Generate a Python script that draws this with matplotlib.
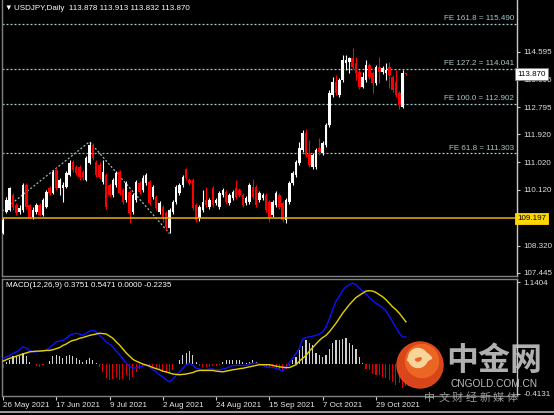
import matplotlib
matplotlib.use("Agg")
import matplotlib.pyplot as plt
from matplotlib.patches import Circle, Wedge
import numpy as np

W, H, DPI = 554, 415, 100
plt.rcParams['font.family'] = ['Liberation Sans', 'DejaVu Sans']

# ---------------- data ----------------
symbol = "USDJPY,Daily"
last_ohlc = ["113.878", "113.913", "113.832", "113.870"]

opens = [108.73, 109.41, 109.47, 109.96, 109.63, 109.41, 109.47, 110.28, 109.63, 109.25,
         109.41, 109.63, 109.31, 109.57, 110.18, 110.02, 110.77, 110.18, 110.18, 110.22,
         110.60, 111.03, 110.86, 110.86, 110.70, 110.44, 110.99, 111.58, 111.03, 110.93,
         110.38, 110.60, 110.28, 109.96, 110.28, 110.70, 110.12, 109.80, 110.05, 109.41,
         109.80, 110.35, 110.12, 110.35, 110.38, 109.89, 109.89, 109.41, 109.57, 109.38,
         108.89, 109.41, 109.73, 110.02, 110.28, 110.80, 110.44, 110.44, 109.63, 109.21,
         109.47, 109.80, 109.57, 110.18, 109.70, 109.57, 109.96, 110.05, 109.70, 109.86,
         110.18, 110.12, 109.96, 109.70, 109.73, 110.22, 110.22, 109.80, 109.86, 109.96,
         109.73, 109.31, 109.63, 109.96, 109.70, 109.15, 109.73, 110.35, 110.60, 110.99,
         111.41, 111.96, 111.32, 110.86, 110.86, 111.48, 111.32, 111.58, 112.22, 113.19,
         113.61, 113.19, 113.68, 114.23, 114.26, 114.39, 114.23, 113.94, 113.45, 113.68,
         114.17, 113.91, 113.58, 114.10, 113.94, 113.91, 114.10, 113.78, 113.61, 113.26,
         112.81, 113.878]
highs = [109.21, 109.89, 110.22, 110.02, 109.70, 109.63, 110.35, 110.35, 109.67, 109.57,
         109.70, 109.70, 109.86, 110.12, 110.25, 110.77, 110.83, 110.51, 110.38, 110.73,
         111.09, 111.09, 110.93, 110.93, 110.77, 111.22, 111.67, 111.64, 111.09, 111.03,
         111.09, 110.67, 110.35, 110.51, 110.73, 110.77, 110.18, 110.41, 110.12, 110.02,
         110.44, 110.41, 110.60, 110.67, 110.44, 110.28, 109.96, 109.76, 109.63, 109.44,
         109.54, 109.80, 110.28, 110.35, 110.60, 110.83, 110.51, 110.51, 109.70, 109.63,
         110.12, 110.22, 109.86, 110.25, 109.86, 110.09, 110.18, 110.12, 110.02, 110.12,
         110.44, 110.18, 110.02, 109.93, 110.35, 110.48, 110.28, 110.09, 110.02, 110.02,
         109.80, 109.80, 110.09, 110.02, 109.76, 109.86, 110.41, 110.73, 111.09, 111.67,
         112.06, 112.09, 111.74, 111.32, 111.48, 111.80, 111.71, 112.29, 113.36, 113.78,
         113.84, 113.74, 114.49, 114.49, 114.42, 114.72, 114.42, 114.00, 113.94, 114.33,
         114.23, 113.97, 114.17, 114.42, 114.13, 114.23, 114.26, 113.84, 114.00, 113.32,
         114.00, 113.913]
lows = [108.70, 109.38, 109.44, 109.47, 109.31, 109.34, 109.41, 109.50, 109.18, 109.18,
        109.34, 109.28, 109.28, 109.54, 109.96, 109.99, 110.12, 109.96, 109.73, 110.18,
        110.57, 110.70, 110.60, 110.44, 110.44, 110.41, 110.96, 111.09, 110.54, 110.48,
        110.31, 109.50, 109.89, 109.89, 110.22, 109.96, 109.67, 109.73, 109.05, 109.34,
        109.73, 109.99, 110.05, 110.28, 109.63, 109.83, 109.47, 109.34, 109.08, 108.83,
        108.73, 109.34, 109.67, 109.96, 110.22, 110.44, 110.28, 109.47, 109.08, 109.12,
        109.41, 109.57, 109.50, 109.57, 109.63, 109.50, 109.89, 109.67, 109.63, 109.80,
        109.83, 109.89, 109.57, 109.63, 109.67, 109.83, 109.57, 109.73, 109.80, 109.41,
        109.08, 109.25, 109.57, 109.50, 109.08, 109.05, 109.67, 110.28, 110.54, 110.93,
        111.35, 111.19, 110.86, 110.80, 110.80, 111.25, 111.25, 111.51, 112.16, 113.13,
        113.19, 113.13, 113.61, 114.00, 113.91, 114.03, 113.68, 113.39, 113.42, 113.61,
        113.71, 113.26, 113.52, 113.58, 113.87, 113.68, 113.42, 113.29, 113.13, 112.74,
        112.77, 113.832]
closes = [109.15, 109.80, 110.18, 109.57, 109.38, 109.54, 110.28, 109.57, 109.21, 109.47,
          109.63, 109.31, 109.80, 110.05, 110.02, 110.70, 110.18, 110.44, 110.28, 110.67,
          110.99, 110.77, 110.67, 110.54, 110.51, 111.16, 111.58, 111.16, 110.60, 110.54,
          110.70, 109.57, 109.96, 110.44, 110.67, 110.02, 109.73, 110.35, 109.38, 109.96,
          110.38, 110.05, 110.51, 110.60, 109.70, 110.22, 109.54, 109.70, 109.25, 108.92,
          109.47, 109.73, 110.22, 110.28, 110.54, 110.51, 110.35, 109.54, 109.15, 109.57,
          109.73, 109.63, 109.80, 109.63, 109.80, 110.02, 110.12, 109.73, 109.96, 110.05,
          109.89, 109.96, 109.63, 109.86, 110.28, 109.89, 109.63, 110.02, 109.96, 109.47,
          109.21, 109.73, 110.02, 109.57, 109.15, 109.80, 110.35, 110.67, 111.03, 111.48,
          111.96, 111.25, 110.93, 111.25, 111.41, 111.35, 111.64, 112.22, 113.26, 113.61,
          113.26, 113.68, 114.33, 114.33, 114.39, 114.10, 113.91, 113.45, 113.78, 114.17,
          113.78, 113.58, 114.10, 113.94, 114.07, 114.00, 113.84, 113.36, 113.19, 112.87,
          113.91, 113.870]

macd_main = [0.08, 0.10, 0.12, 0.15, 0.17, 0.20, 0.24, 0.22, 0.19, 0.17,
             0.17, 0.18, 0.18, 0.19, 0.23, 0.27, 0.31, 0.32, 0.33, 0.36,
             0.40, 0.42, 0.43, 0.42, 0.40, 0.43, 0.46, 0.47, 0.45, 0.40,
             0.36, 0.31, 0.28, 0.24, 0.18, 0.13, 0.07, 0.01, -0.03, -0.06,
             -0.05, -0.04, -0.03, -0.01, -0.04, -0.08, -0.11, -0.15, -0.18, -0.22,
             -0.25, -0.21, -0.16, -0.11, -0.06, -0.01, 0.01, -0.02, -0.06, -0.07,
             -0.08, -0.08, -0.07, -0.07, -0.08, -0.08, -0.07, -0.06, -0.04, -0.02,
             -0.02, -0.02, -0.02, -0.02, 0.0, 0.01, 0.01, 0.0, -0.02, -0.04,
             -0.05, -0.05, -0.06, -0.08, -0.10, -0.05, 0.02, 0.08, 0.15, 0.22,
             0.35, 0.37, 0.38, 0.39, 0.40, 0.42, 0.45, 0.52, 0.63, 0.76,
             0.88, 0.95, 1.03, 1.08, 1.11, 1.13, 1.11, 1.06, 1.02, 0.98,
             0.93, 0.89, 0.85, 0.82, 0.79, 0.74, 0.67, 0.59, 0.51, 0.43,
             0.38, 0.375]
macd_signal = [0.04, 0.06, 0.08, 0.09, 0.11, 0.125, 0.14, 0.155, 0.17, 0.175,
               0.18, 0.18, 0.185, 0.19, 0.19, 0.20, 0.215, 0.23, 0.26, 0.28,
               0.31, 0.33, 0.34, 0.36, 0.37, 0.385, 0.40, 0.41, 0.42, 0.43,
               0.425, 0.42, 0.39, 0.36, 0.31, 0.265, 0.21, 0.155, 0.11, 0.065,
               0.04, 0.02, 0.0, -0.015, -0.03, -0.05, -0.065, -0.08, -0.10, -0.11,
               -0.125, -0.14, -0.145, -0.15, -0.145, -0.14, -0.13, -0.12, -0.10, -0.09,
               -0.09, -0.09, -0.09, -0.09, -0.10, -0.105, -0.11, -0.10, -0.09, -0.08,
               -0.075, -0.065, -0.06, -0.05, -0.04, -0.03, -0.02, -0.01, -0.01, -0.01,
               -0.01, -0.02, -0.03, -0.04, -0.045, -0.05, -0.05, -0.03, -0.01, 0.04,
               0.08, 0.12, 0.18, 0.23, 0.28, 0.33, 0.37, 0.40, 0.45, 0.51,
               0.57, 0.64, 0.71, 0.77, 0.83, 0.88, 0.93, 0.96, 0.99, 1.02,
               1.025, 1.02, 1.00, 0.97, 0.94, 0.90, 0.85, 0.80, 0.76, 0.71,
               0.65, 0.59]
macd_hist = [-0.06, 0.03, 0.06, 0.11, 0.11, 0.11, 0.155, 0.11, 0.03, 0.0,
             -0.03, -0.04, -0.02, 0.0, 0.04, 0.11, 0.12, 0.11, 0.09, 0.11,
             0.13, 0.11, 0.08, 0.06, 0.03, 0.05, 0.08, 0.05, 0.015, -0.04,
             -0.11, -0.20, -0.22, -0.21, -0.20, -0.22, -0.21, -0.16, -0.22, -0.18,
             -0.11, -0.07, -0.03, -0.02, -0.04, -0.05, -0.07, -0.09, -0.11, -0.13,
             -0.13, -0.09, -0.005, 0.06, 0.13, 0.16, 0.18, 0.13, 0.03, -0.03,
             -0.04, -0.04, -0.04, -0.03, -0.03, -0.015, 0.03, 0.05, 0.05, 0.05,
             0.06, 0.05, 0.03, 0.02, 0.03, 0.05, 0.03, 0.0, -0.03, -0.04,
             -0.05, -0.05, -0.05, -0.07, -0.09, -0.07, -0.03, 0.05, 0.10, 0.20,
             0.25, 0.33, 0.30, 0.27, 0.15, 0.12, 0.10, 0.12, 0.21, 0.30,
             0.33, 0.33, 0.35, 0.36, 0.30, 0.27, 0.21, 0.10, 0.02, -0.07,
             -0.09, -0.14, -0.16, -0.16, -0.18, -0.20, -0.22, -0.25, -0.29, -0.27,
             -0.34, -0.31]
macd_header = "MACD(12,26,9) 0.3751 0.5471 0.0000 -0.2235"

date_labels = ["26 May 2021", "17 Jun 2021", "9 Jul 2021", "2 Aug 2021",
               "24 Aug 2021", "15 Sep 2021", "7 Oct 2021", "29 Oct 2021"]
date_label_bars = [0, 16, 32, 48, 64, 80, 96, 112]

fe_names = ["FE 161.8", "FE 127.2", "FE 100.0", "FE 61.8"]
fe_levels = [115.490, 114.041, 112.902, 111.303]
fe_anchor_bars = [-23, 26, 50]
fe_anchor_prices = [107.49, 111.68, 108.71]
support_level = 109.197
current_price = 113.870
price_ticks = [114.595, 113.695, 112.795, 111.920, 111.020, 110.120, 108.320, 107.445]
macd_ticks = [1.1404, -0.4131]
watermark_big = "中金网"
watermark_site = "CNGOLD.COM.CN"
watermark_slogan = ["中", "文", "财", "经", "新", "媒", "体"]

# ---------------- figure ----------------
FS = 5.8
fig = plt.figure(figsize=(W / DPI, H / DPI), dpi=DPI, facecolor='black')

def fx(px):
    return px / W

def fy(py):
    return 1 - py / H

ax = fig.add_axes([fx(2), fy(276), fx(517) - fx(2), fy(0) - fy(276)])
axm = fig.add_axes([fx(2), fy(396), fx(517) - fx(2), fy(279) - fy(396)])

PX_PER_BAR = 3.33
xlo = (2 - 3) / PX_PER_BAR
xhi = (517 - 3) / PX_PER_BAR

GREY = '#808080'
AXC = '#C8C8C8'
for a in (ax, axm):
    a.set_facecolor('black')
    a.set_xlim(xlo, xhi)
    for s in a.spines.values():
        s.set_color(GREY)
        s.set_linewidth(1.0)
    a.spines['right'].set_color(AXC)
    a.yaxis.tick_right()
    a.tick_params(axis='y', colors=AXC, labelcolor='#E0E0E0', length=2.5, width=0.8,
                  pad=2, labelsize=FS, direction='out')
ax.spines['top'].set_visible(False)

# price pane
ax.set_ylim(116.268 - 276 / 30.9, 116.268)
x = np.arange(len(closes))
o = np.array(opens); h = np.array(highs); l = np.array(lows); c = np.array(closes)
up = c >= o
cols = np.where(up, '#FFFFFF', '#FF0000')
ax.vlines(x, l, h, colors=cols, linewidth=0.8, zorder=3)
body_bot = np.minimum(o, c)
body_h = np.maximum(np.abs(c - o), 0.025)
ax.bar(x, body_h, bottom=body_bot, width=0.74, color=cols, linewidth=0, zorder=4)

FE_COL = '#A9CACA'
for name, lev in zip(fe_names, fe_levels):
    ax.axhline(lev, color=FE_COL, linewidth=0.9, linestyle=(0, (1.6, 1.6)), zorder=2)
    ax.annotate(f"{name} = {lev:.3f}", xy=(1, lev), xycoords=ax.get_yaxis_transform(),
                xytext=(-2, 1.2), textcoords='offset points', ha='right', va='bottom',
                color=FE_COL, fontsize=FS, zorder=6)
ax.plot(fe_anchor_bars, fe_anchor_prices, color='#9FB5B5', linewidth=0.9,
        linestyle=(0, (1.6, 1.6)), zorder=2)
ax.axhline(support_level, color='#E6B400', linewidth=1.1, zorder=5)

ax.set_yticks(price_ticks)
ax.set_yticklabels([f"{t:.3f}" for t in price_ticks])
ax.set_xticks([])

ax.text(1.0, current_price, f"{current_price:.3f}", transform=ax.get_yaxis_transform(),
        ha='left', va='center', fontsize=FS, color='black', zorder=20, clip_on=False,
        bbox=dict(boxstyle='square,pad=0.3', fc='white', ec='#808080', lw=0.6))
ax.text(1.0, support_level, f"{support_level:.3f}", transform=ax.get_yaxis_transform(),
        ha='left', va='center', fontsize=FS, color='black', zorder=20, clip_on=False,
        bbox=dict(boxstyle='square,pad=0.3', fc='#FFD700', ec='#FFD700', lw=0.6))

# MACD pane
axm.set_ylim((364 - 396) / 71.5, (364 - 279) / 71.5)
hist = np.array(macd_hist)
hcols = np.where(hist >= 0, '#D0D0D0', '#E00000')
axm.bar(x, hist, width=0.33, color=hcols, linewidth=0, zorder=2)
axm.plot(x, macd_main, color='#1010FF', linewidth=1.0, zorder=3)
axm.plot(x, macd_signal, color='#E6D200', linewidth=1.0, zorder=4)
axm.set_yticks(macd_ticks)
axm.set_yticklabels([f"{t:.4f}" for t in macd_ticks])
axm.set_xticks(date_label_bars)
axm.set_xticklabels(date_labels, ha='left')
axm.tick_params(axis='x', colors=AXC, labelcolor='#E8E8E8', length=3, width=0.8,
                pad=1.5, labelsize=FS, direction='out')

# overlay for titles, borders and watermark
ov = fig.add_axes([0, 0, 1, 1], zorder=10)
ov.set_xlim(0, W); ov.set_ylim(H, 0); ov.axis('off')
ov.patch.set_alpha(0)
ov.text(4, 8, "▼", fontsize=5.5, color='white', va='center', ha='left')
ov.text(14, 8, f"{symbol}  " + " ".join(last_ohlc), fontsize=FS, color='white',
        va='center', ha='left')
ov.text(6, 285.5, macd_header, fontsize=FS, color='white', va='center', ha='left')
ov.plot([0, W], [412, 412], color='#9A9A9A', linewidth=1.5)

# watermark logo
ov.add_patch(Circle((420, 365), 23, color='#E5491C', alpha=0.95, zorder=1))
ov.add_patch(Circle((422, 361), 16.5, color='#EE6A24', alpha=0.9, zorder=1))
ov.add_patch(Wedge((418, 358), 9.5, 0, 360, width=5, color='#F8D49A', zorder=2))
ov.add_patch(Wedge((420, 365), 13.5, 200, 330, width=5, color='#F8D49A', zorder=2))
ov.text(494, 361, watermark_big, fontsize=23, color='#C4C4C4', fontweight='bold',
        family=['Noto Sans CJK SC', 'DejaVu Sans'], ha='center', va='center', alpha=0.9)
ov.text(494, 384, watermark_site, fontsize=7.3, color='#BDBDBD', ha='center', va='center')
n_sl = len(watermark_slogan)
for k, ch in enumerate(watermark_slogan):
    ov.text(430 + k * (512 - 430) / (n_sl - 1), 398, ch, fontsize=8, color='#A8A8A8',
            family=['Noto Sans CJK SC', 'DejaVu Sans'], ha='center', va='center', alpha=0.9)

fig.savefig('out.png', dpi=DPI, facecolor='black')
